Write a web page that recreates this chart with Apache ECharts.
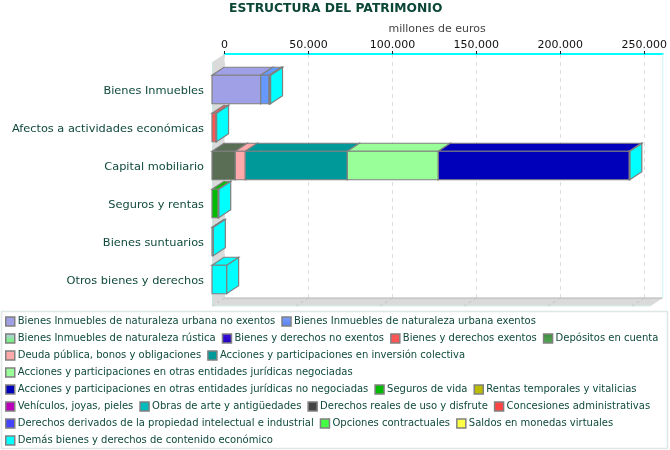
<!DOCTYPE html>
<html><head><meta charset="utf-8">
<style>html,body{margin:0;padding:0;background:#fff}#c{width:670px;height:450px}</style>
<script src="https://cdn.jsdelivr.net/npm/echarts@6/dist/echarts.min.js"></script>
</head><body><div id="c"></div>
<script>
const categories = ['Bienes Inmuebles','Afectos a actividades económicas','Capital mobiliario','Seguros y rentas','Bienes suntuarios','Otros bienes y derechos'];
const tickValues = [0,50000,100000,150000,200000,250000];
const axisMax = 261000;

const urbanaNoExentos = [28950,0,0,0,0,0];
const urbanaExentos   = [4950,0,0,0,0,0];
const rustica         = [600,0,0,0,0,0];
const noExentos       = [0,0,0,0,0,0];
const exentos         = [0,2400,0,0,0,0];
const depositos       = [0,0,13850,0,0,0];
const deuda           = [0,0,5950,0,0,0];
const inversion       = [0,0,60650,0,0,0];
const negociadas      = [0,0,54100,0,0,0];
const noNegociadas    = [0,0,113560,0,0,0];
const seguros         = [0,0,0,3700,0,0];
const rentas          = [0,0,0,0,0,0];
const vehiculos       = [0,0,0,0,0,0];
const arte            = [0,0,0,0,0,0];
const reales          = [0,0,0,0,0,0];
const concesiones     = [0,0,0,0,0,0];
const intelectual     = [0,0,0,0,0,0];
const opciones        = [0,0,0,0,0,0];
const virtuales       = [0,0,0,0,0,0];
const demas           = [300,300,300,300,800,8700];

const seriesNames = ['Bienes Inmuebles de naturaleza urbana no exentos','Bienes Inmuebles de naturaleza urbana exentos','Bienes Inmuebles de naturaleza rústica','Bienes y derechos no exentos','Bienes y derechos exentos','Depósitos en cuenta','Deuda pública, bonos y obligaciones','Acciones y participaciones en inversión colectiva','Acciones y participaciones en otras entidades jurídicas negociadas','Acciones y participaciones en otras entidades jurídicas no negociadas','Seguros de vida','Rentas temporales y vitalicias','Vehículos, joyas, pieles','Obras de arte y antigüedades','Derechos reales de uso y disfrute','Concesiones administrativas','Derechos derivados de la propiedad intelectual e industrial','Opciones contractuales','Saldos en monedas virtuales','Demás bienes y derechos de contenido económico'];
const seriesValues = [urbanaNoExentos,urbanaExentos,rustica,noExentos,exentos,depositos,deuda,inversion,negociadas,noNegociadas,seguros,rentas,vehiculos,arte,reales,concesiones,intelectual,opciones,virtuales,demas];
const barColors = ['#a0a0e6','#6699ff','#cfe8e0','#0000cc','#ff5555','#5a6e55','#ffaaaa','#009999','#99ff99','#0000bb','#00bb00','#bbbb00','#bb00bb','#00bbbb','#444444','#ff4444','#4444ff','#44ff44','#ffff44','#00ffff'];
const swatchTop = {1:'#7fa0ff',2:'#b8c8e8',3:'#3a10e0',5:'#3a8a3a'};
const swatchBottom = {1:'#5580ee',2:'#66ff66',3:'#2200bb',5:'#55aa55'};

const DX = 12, DY = 8, EDGE = '#808080', TEXT = '#0f4a3c';
const fontFamily = '"DejaVu Sans", Verdana, sans-serif';

const running = categories.map(() => 0);
const barSeries = seriesNames.map((name, s) => ({
  type: 'custom', name, xAxisIndex: 1, yAxisIndex: 1, z: 5, silent: true,
  itemStyle: { color: barColors[s] },
  encode: { x: [0, 1], y: 2 },
  data: seriesValues[s].map((v, i) => { const a = running[i]; running[i] += v; return [a, running[i], i]; }),
  renderItem: (params, api) => {
    const a = api.value(0), b = api.value(1), i = api.value(2);
    if (b <= a) return null;
    const p0 = api.coord([a, i]), p1 = api.coord([b, i]);
    const h = api.size([0, 1])[1] * 0.75;
    const x0 = p0[0], x1 = p1[0], t = p0[1] - h / 2, u = p0[1] + h / 2;
    const style = { fill: barColors[s], stroke: EDGE, lineWidth: 1.2 };
    return { type: 'group', children: [
      { type: 'polygon', shape: { points: [[x1, t], [x1 + DX, t - DY], [x1 + DX, u - DY], [x1, u]] }, style },
      { type: 'polygon', shape: { points: [[x0, t], [x0 + DX, t - DY], [x1 + DX, t - DY], [x1, t]] }, style },
      { type: 'rect', shape: { x: x0, y: t, width: x1 - x0, height: u - t }, style }
    ]};
  }
}));

const wallSeries = {
  type: 'custom', xAxisIndex: 0, yAxisIndex: 0, z: 1, silent: true,
  encode: { x: 0 },
  data: tickValues.map(v => [v]),
  renderItem: (params, api) => {
    const c = params.coordSys, x = api.coord([api.value(0), 0])[0], bottom = c.y + c.height, right = c.x + c.width;
    const children = [];
    if (params.dataIndex === 0) {
      children.push(
        { type: 'polygon', shape: { points: [[c.x, c.y], [c.x - DX, c.y + DY], [c.x - DX, bottom + DY], [c.x, bottom]] }, style: { fill: '#dadada' } },
        { type: 'polygon', shape: { points: [[c.x, bottom], [c.x - DX, bottom + DY], [right - DX, bottom + DY], [right, bottom]] }, style: { fill: '#dadada' } },
        { type: 'line', shape: { x1: c.x, y1: bottom, x2: right, y2: bottom }, style: { stroke: '#b4b4b4', lineWidth: 1 } },
        { type: 'line', shape: { x1: right, y1: c.y, x2: right, y2: bottom }, style: { stroke: '#c8f4f4', lineWidth: 1 } },
        { type: 'line', shape: { x1: c.x - DX, y1: c.y + DY, x2: c.x - DX, y2: bottom + DY }, style: { stroke: '#c8e6e2', lineWidth: 1 } },
        { type: 'line', shape: { x1: c.x - DX, y1: bottom + DY, x2: right - DX, y2: bottom + DY }, style: { stroke: '#d4f0ec', lineWidth: 1 } }
      );
    }
    children.push({ type: 'line', shape: { x1: x, y1: bottom, x2: x - DX, y2: bottom + DY }, style: { stroke: '#c4c4c4', lineWidth: 1, lineDash: [3, 3] } });
    return { type: 'group', children };
  }
};

const legendData = seriesNames.map((name, s) => ({
  name,
  itemStyle: {
    borderColor: EDGE, borderWidth: 1.5,
    color: swatchTop[s] ? new echarts.graphic.LinearGradient(0, 0, 0, 1, [{ offset: 0, color: swatchTop[s] }, { offset: 1, color: swatchBottom[s] }]) : barColors[s]
  }
}));

const chart = echarts.init(document.getElementById('c'), null, { renderer: 'canvas' });
chart.setOption({
  animation: false,
  backgroundColor: '#ffffff',
  title: { text: 'ESTRUCTURA DEL PATRIMONIO', left: 229, top: -2, padding: [5, 0, 5, 0],
    textStyle: { fontFamily, fontSize: 12.3, fontWeight: 'bold', color: '#0b4636' } },
  graphic: [{ type: 'rect', z: 0, shape: { x: 1.5, y: 311.5, width: 666, height: 137 }, style: { fill: '#fff', stroke: '#dfe8e6', lineWidth: 1.5 } }],
  grid: [
    { left: 224.5, top: 54, width: 439, height: 244, containLabel: false },
    { left: 212, top: 70.5, width: 439, height: 228, containLabel: false }
  ],
  xAxis: [
    { type: 'value', gridIndex: 0, position: 'top', min: 0, max: axisMax,
      name: 'millones de euros', nameLocation: 'middle', nameGap: 14,
      nameTextStyle: { fontFamily, fontSize: 11, color: '#444444', padding: [0, 13, 0, 0] },
      axisLine: { show: true, lineStyle: { color: '#00ffff', width: 2 } },
      axisTick: { show: true, length: 3, customValues: tickValues, lineStyle: { color: '#222' } },
      axisLabel: { show: true, margin: 3, customValues: tickValues, fontFamily, fontSize: 11, color: '#111',
        formatter: v => String(v).replace(/\B(?=(\d{3})+$)/g, '.') },
      splitLine: { show: true, lineStyle: { color: '#dddddd', type: [4, 4] } } },
    { type: 'value', gridIndex: 1, min: 0, max: axisMax, show: false, splitLine: { show: false } }
  ],
  yAxis: [
    { type: 'category', gridIndex: 0, data: categories, inverse: true, show: false },
    { type: 'category', gridIndex: 1, data: categories, inverse: true,
      axisLine: { show: false }, axisTick: { show: false }, splitLine: { show: false },
      axisLabel: { margin: 8, fontFamily, fontSize: 11.35, color: TEXT, verticalAlign: 'top', lineHeight: 3 } }
  ],
  legend: { data: legendData, selectedMode: false, left: 1, top: 311, width: 664, padding: [5, 4, 4, 4],
    icon: 'rect', itemWidth: 9, itemHeight: 9, itemGap: 6,
    textStyle: { fontFamily, fontSize: 10, color: TEXT, lineHeight: 11, padding: [0, 0, 0, -2] } },
  series: [wallSeries, ...barSeries]
});
</script></body></html>
